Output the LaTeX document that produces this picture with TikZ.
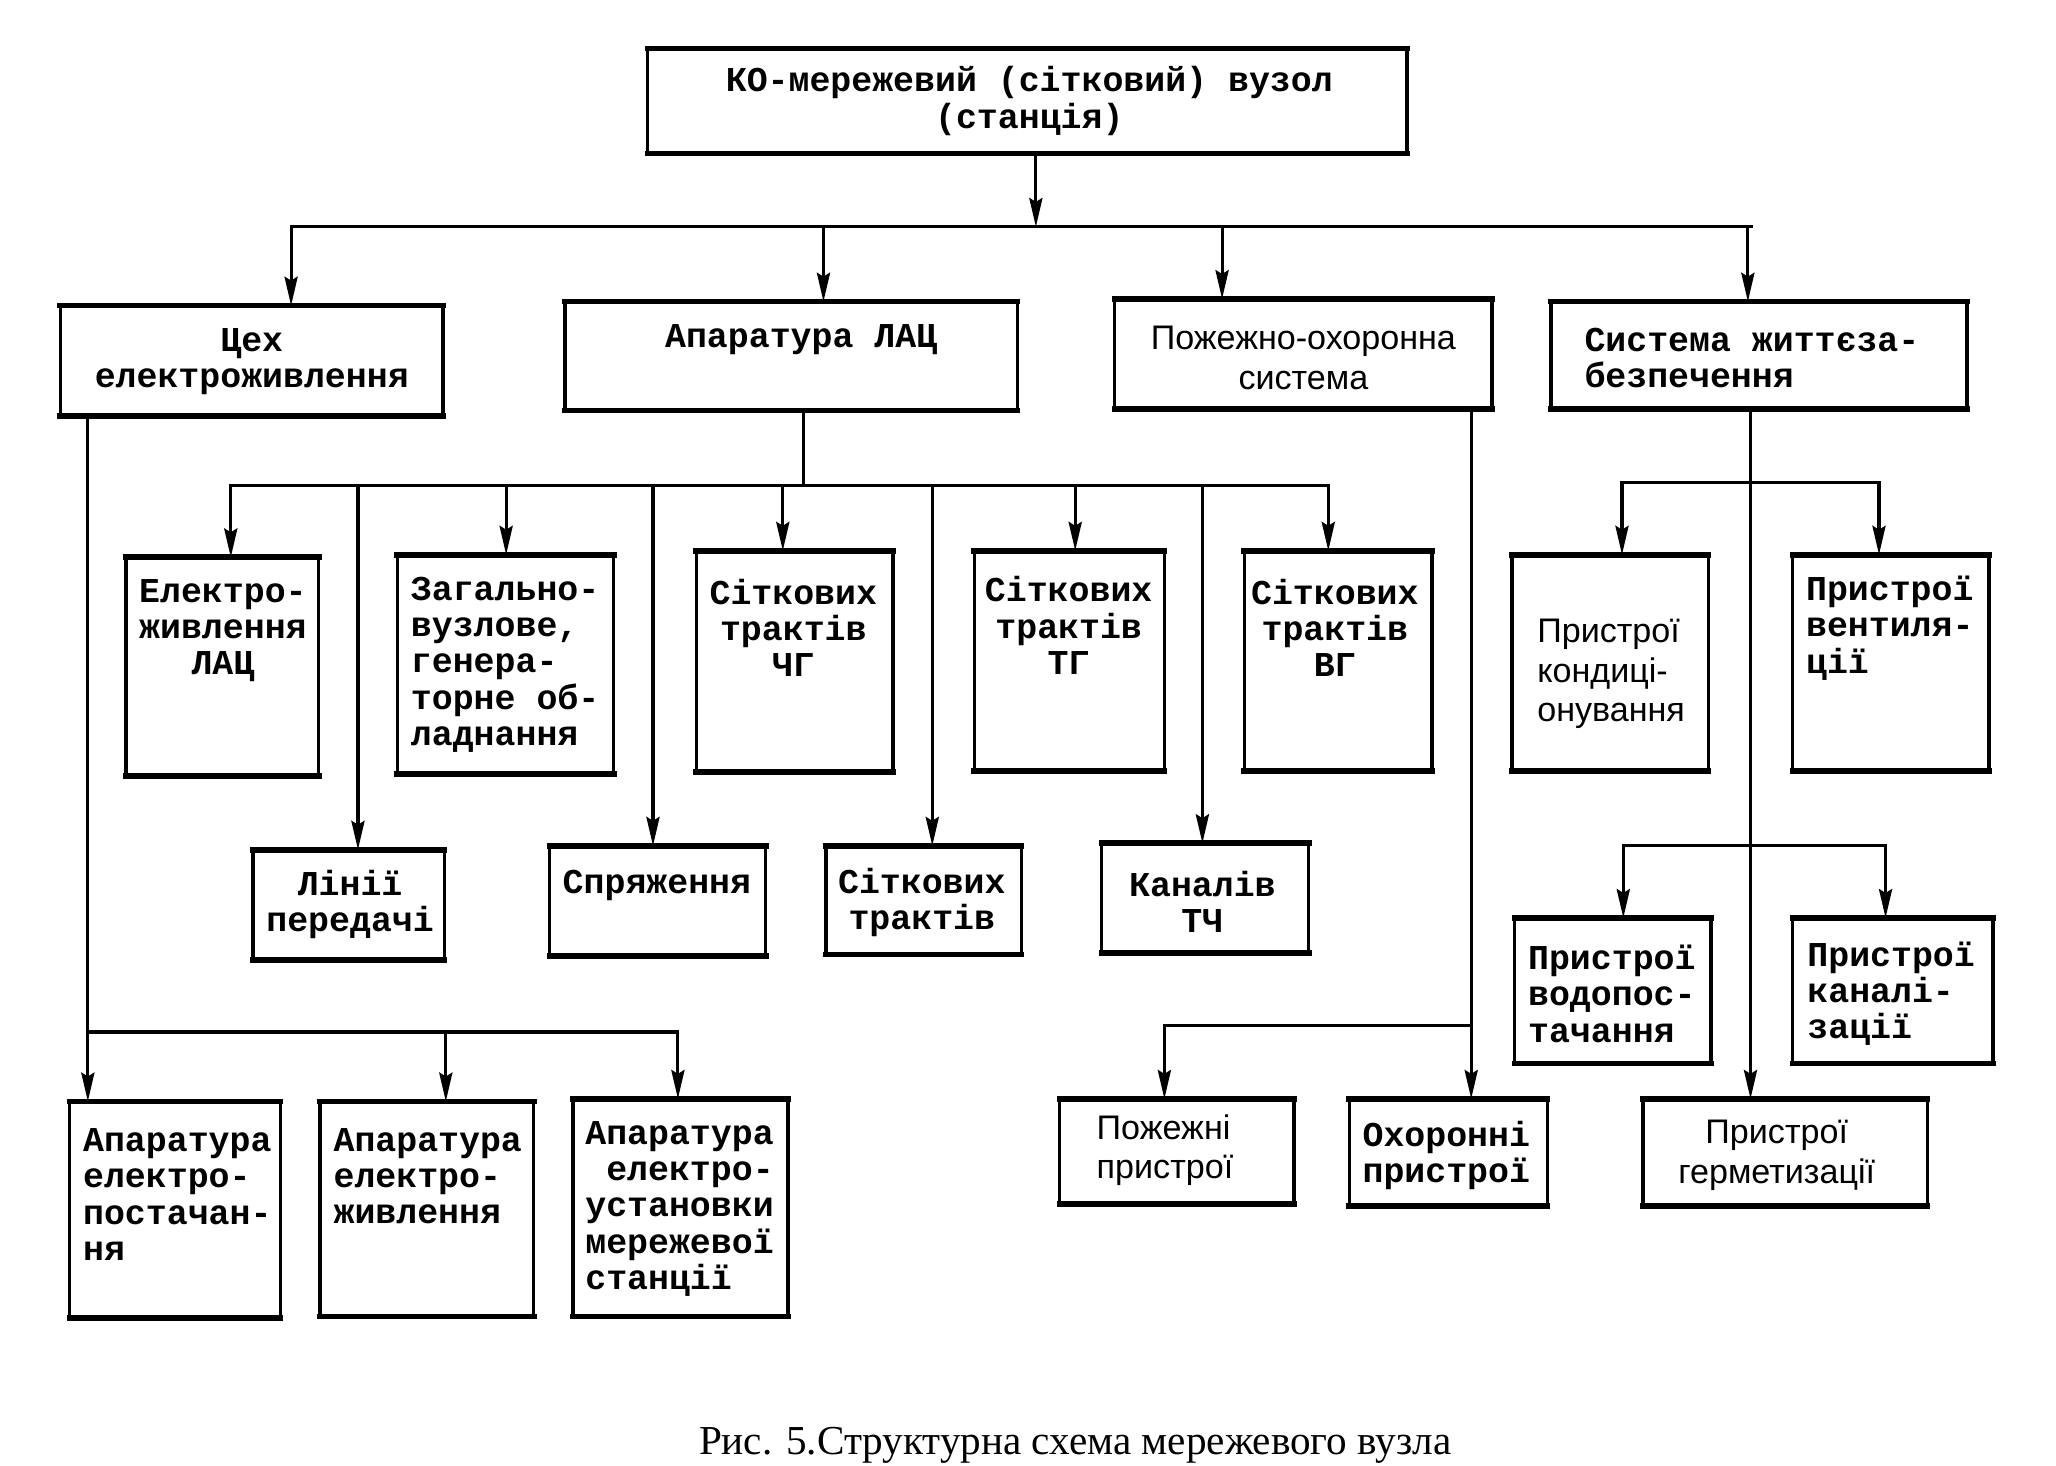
\documentclass[tikz,border=0pt]{standalone}
\usepackage{fontspec}
\setmainfont{Liberation Serif}
\newfontfamily\monof{Liberation Mono}
\newfontfamily\sansf{Liberation Sans}
\usetikzlibrary{arrows.meta}
\tikzset{
  box/.style={draw, line width=1.3pt, inner sep=0pt, outer sep=0pt, fill=white},
  hedge/.style={line width=2.2pt, line cap=rect},
  conn/.style={line width=1.2pt, line cap=rect},
  arr/.style={line width=1.2pt, -{Stealth[length=11pt,width=5pt,inset=1.5pt]}},
  mt/.style={font=\monof\bfseries\fontsize{13.3}{13.8}\selectfont, inner sep=0pt},
  st/.style={font=\sansf\fontsize{13}{15}\selectfont, inner sep=0pt},
}
\newcommand\bx[5]{%
  \pgfmathsetmacro\bxw{(#4-#2)*0.5}%
  \pgfmathsetmacro\bxh{(#5-#3)*0.5}%
  \node[box, minimum width=\bxw pt, minimum height=\bxh pt] (#1) at ({(#2+#4)/2},{(#3+#5)/2}) {};%
  \draw[hedge] (#1.north west) -- (#1.north east);%
  \draw[hedge] (#1.south west) -- (#1.south east);%
}
\begin{document}
\begin{tikzpicture}[x=0.5pt,y=-0.5pt]
\useasboundingbox (0,0) rectangle (1568,1118);
\fill[white] (0,0) rectangle (1568,1118);
% boxes
\bx{top}{494}{37}{1073}{117}
\bx{cex}{46}{233}{338}{317}
\bx{lac}{431}{230}{776}{313}
\bx{pozh}{850}{228}{1138}{312}
\bx{sys}{1183}{230}{1500}{312}
\bx{el}{96}{425}{243}{592}
\bx{zag}{303}{423}{468}{590}
\bx{chg}{531}{420}{681}{589}
\bx{tg}{743}{420}{888}{588}
\bx{vg}{949}{420}{1092}{588}
\bx{lin}{193}{648}{339}{732}
\bx{spr}{419}{645}{584}{729}
\bx{sit}{630}{645}{779}{728}
\bx{kan}{840}{643}{998}{727}
\bx{ap1}{53}{840}{214}{1005}
\bx{ap2}{244}{840}{407}{1004}
\bx{ap3}{437}{838}{601}{1004}
\bx{pzh}{808}{838}{987}{918}
\bx{ohr}{1029}{838}{1180}{920}
\bx{kond}{1153}{423}{1303}{588}
\bx{vent}{1367}{423}{1517}{588}
\bx{vod}{1155}{700}{1305}{811}
\bx{kanl}{1367}{700}{1520}{811}
\bx{germ}{1253}{838}{1470}{920}
% texts
\node[mt, align=center] (ttop) at (785,77) {КО-мережевий (сітковий) вузол\\(станція)};
\node[mt, align=center] (tcex) at (192,276) {Цех\\електроживлення};
\node[mt] (tlac) at (611,259) {Апаратура ЛАЦ};
\node[st, align=center] (tpozh) at (994,273) {Пожежно-охоронна\\система};
\node[mt, align=left, anchor=west] (tsys) at (1208,273) {Система життєза-\\безпечення};
\node[mt, align=center] (tel) at (170,481) {Електро-\\живлення\\ЛАЦ};
\node[mt, align=left, anchor=west] (tzag) at (313,507) {Загально-\\вузлове,\\генера-\\торне об-\\ладнання};
\node[mt, align=center] (tchg) at (605,479) {Сіткових\\трактів\\ЧГ};
\node[mt, align=center] (ttg) at (815,477) {Сіткових\\трактів\\ТГ};
\node[mt, align=center] (tvg) at (1018,479) {Сіткових\\трактів\\ВГ};
\node[mt, align=center] (tlin) at (267,690) {Лінії\\передачі};
\node[mt] (tspr) at (501,675) {Спряження};
\node[mt, align=center] (tsit) at (703,688) {Сіткових\\трактів};
\node[mt, align=center] (tkan) at (917,688) {Каналів\\ТЧ};
\node[mt, align=left, anchor=west] (tap1) at (63,911) {Апаратура\\електро-\\постачан-\\ня};
\node[mt, align=left, anchor=west] (tap2) at (254,897) {Апаратура\\електро-\\живлення};
\node[mt, align=left, anchor=west] (tap3) at (446,922) {Апаратура\\\hspace{0.6em}електро-\\установки\\мережевої\\станції};
\node[st, align=left, anchor=west] (tpzh) at (836,877) {Пожежні\\пристрої};
\node[mt, align=center] (tohr) at (1103,881) {Охоронні\\пристрої};
\node[st, align=left, anchor=west] (tkond) at (1172,514) {Пристрої\\кондиці-\\онування};
\node[mt, align=left, anchor=west] (tvent) at (1377,479) {Пристрої\\вентиля-\\ції};
\node[mt, align=left, anchor=west] (tvod) at (1165,758) {Пристрої\\водопос-\\тачання};
\node[mt, align=left, anchor=west] (tkanl) at (1378,758) {Пристрої\\каналі-\\зації};
\node[st, align=center] (tgerm) at (1355,881) {Пристрої\\герметизації};
\node[font=\fontsize{15.7}{18}\selectfont, inner sep=0pt] (cap) at (820,1102) {Рис. 5.Структурна схема мережевого вузла};
% level 1 connectors
\coordinate (t1) at (790,173);
\coordinate (c1) at (222,173);
\coordinate (c2) at (628,173);
\coordinate (c3) at (932,173);
\coordinate (c4) at (1333,173);
\coordinate (c5) at (1336,173);
\draw[arr] (top.south -| t1) -- (t1);
\draw[conn] (c1) -- (c5);
\draw[arr] (c1) -- (c1 |- cex.north);
\draw[arr] (c2) -- (c2 |- lac.north);
\draw[arr] (c3) -- (c3 |- pozh.north);
\draw[arr] (c4) -- (c4 |- sys.north);
% LAC subtree
\coordinate (l0) at (613,370);
\coordinate (d1) at (176,370);
\coordinate (d2) at (273,370);
\coordinate (d3) at (386,370);
\coordinate (d4) at (498,370);
\coordinate (d5) at (597,370);
\coordinate (d6) at (711,370);
\coordinate (d7) at (820,370);
\coordinate (d8) at (917,370);
\coordinate (d9) at (1013,370);
\draw[conn] (lac.south -| l0) -- (l0);
\draw[conn] (d1) -- (d9);
\draw[arr] (d1) -- (d1 |- el.north);
\draw[arr] (d2) -- (d2 |- lin.north);
\draw[arr] (d3) -- (d3 |- zag.north);
\draw[arr] (d4) -- (d4 |- spr.north);
\draw[arr] (d5) -- (d5 |- chg.north);
\draw[arr] (d6) -- (d6 |- sit.north);
\draw[arr] (d7) -- (d7 |- tg.north);
\draw[arr] (d8) -- (d8 |- kan.north);
\draw[arr] (d9) -- (d9 |- vg.north);
% power subtree
\coordinate (e0) at (67,787);
\coordinate (e1) at (340,787);
\coordinate (e2) at (517,787);
\draw[arr] (cex.south -| e0) -- (e0 |- ap1.north);
\draw[conn] (e0) -- (e2);
\draw[arr] (e1) -- (e1 |- ap2.north);
\draw[arr] (e2) -- (e2 |- ap3.north);
% fire / security subtree
\coordinate (p1) at (1122,782);
\coordinate (p2) at (888,782);
\draw[arr] (pozh.south -| p1) -- (p1 |- ohr.north);
\draw[arr] (p1) -- (p2) -- (p2 |- pzh.north);
% life support subtree
\coordinate (s0) at (1335,368);
\coordinate (s1) at (1237,368);
\coordinate (s2) at (1433,368);
\coordinate (s3) at (1238,645);
\coordinate (s4) at (1438,645);
\draw[arr] (sys.south -| s0) -- (s0 |- germ.north);
\draw[conn] (s1) -- (s2);
\draw[arr] (s1) -- (s1 |- kond.north);
\draw[arr] (s2) -- (s2 |- vent.north);
\draw[conn] (s3) -- (s4);
\draw[arr] (s3) -- (s3 |- vod.north);
\draw[arr] (s4) -- (s4 |- kanl.north);
\end{tikzpicture}
\end{document}
